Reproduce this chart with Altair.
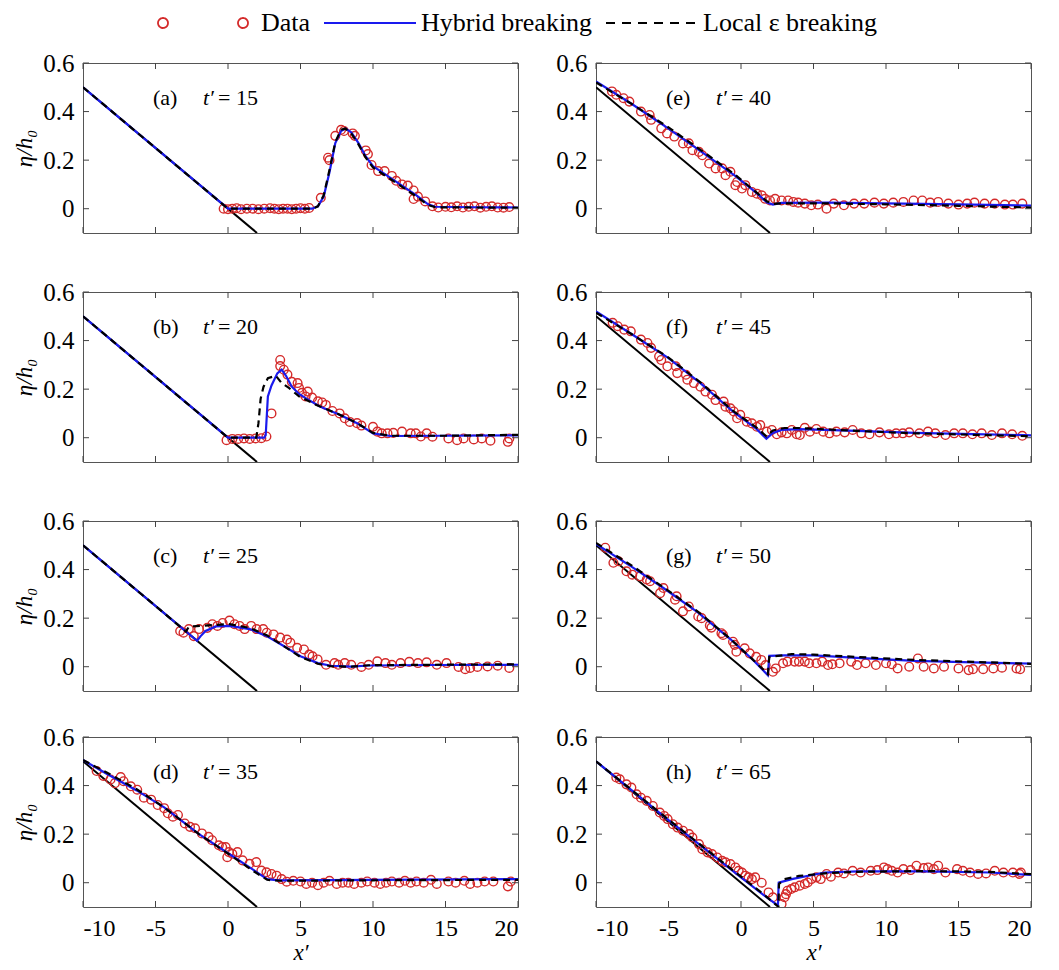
import altair as alt
import pandas as pd

FONT = "Liberation Serif"
XTICKS = [-10, -5, 0, 5, 10, 15, 20]
YTICKS = [0, 0.2, 0.4, 0.6]
BEACH = [(-10, 0.5), (2, -0.1)]
SERIES = ["Data", "Hybrid breaking", "Local ε breaking"]
COLORS = ["#d42a2a", "#1a1aee", "#000000"]
LETTERS = ["a", "b", "c", "d", "e", "f", "g", "h"]
TIMES = [15, 20, 25, 35, 40, 45, 50, 65]

A_DATA = [(-0.3, 0.0), (0.0, -0.002), (0.3, 0.0), (0.6, 0.002), (0.9, -0.002), (1.3, 0.0), (1.7, 0.0),
          (2.1, -0.002), (2.5, 0.0), (2.9, 0.002), (3.2, 0.0), (3.5, -0.002), (3.8, 0.0), (4.1, 0.0),
          (4.4, -0.002), (4.7, 0.0), (5.0, 0.002), (5.3, 0.0), (5.6, 0.003), (6.4, 0.045), (6.9, 0.21),
          (7.0, 0.20), (7.4, 0.30), (7.8, 0.325), (8.0, 0.32), (8.6, 0.31), (8.75, 0.30), (9.5, 0.24),
          (9.65, 0.225), (9.9, 0.18), (10.35, 0.155), (10.8, 0.155), (11.3, 0.135), (11.6, 0.115),
          (12.0, 0.10), (12.4, 0.095), (12.8, 0.075), (12.8, 0.04), (13.1, 0.05), (13.6, 0.03),
          (14.1, 0.01), (14.5, 0.005), (15.0, 0.008), (15.4, 0.006), (15.8, 0.01), (16.2, 0.005),
          (16.6, 0.008), (17.0, 0.01), (17.4, 0.004), (17.8, 0.008), (18.2, 0.01), (18.6, 0.005),
          (19.0, 0.004), (19.4, 0.007)]
A_HYB = [(-10, 0.5), (0, 0.0), (5.8, 0.0), (6.2, 0.01), (6.6, 0.05), (7.0, 0.15), (7.4, 0.27), (7.8, 0.32),
         (8.1, 0.33), (8.5, 0.315), (9.0, 0.27), (9.5, 0.215), (10.0, 0.175), (11.0, 0.135), (12.0, 0.095),
         (13.0, 0.055), (13.8, 0.018), (14.3, 0.008), (17, 0.006), (20, 0.005)]
A_LOC = [(-10, 0.5), (0, 0.0), (5.8, 0.0), (6.2, 0.01), (6.6, 0.055), (7.0, 0.16), (7.4, 0.275), (7.8, 0.325),
         (8.1, 0.33), (8.5, 0.31), (9.0, 0.265), (9.5, 0.21), (10.0, 0.17), (11.0, 0.13), (12.0, 0.09),
         (13.0, 0.05), (13.8, 0.015), (14.3, 0.006), (17, 0.005), (20, 0.004)]

B_DATA = [(-0.1, -0.01), (0.3, -0.005), (0.7, -0.005), (1.1, -0.003), (1.5, -0.005), (1.9, -0.003),
          (2.3, -0.002), (2.65, 0.005), (3.0, 0.10), (3.6, 0.32), (3.6, 0.295), (3.85, 0.28), (4.1, 0.26),
          (4.4, 0.23), (4.8, 0.225), (4.9, 0.205), (5.1, 0.185), (5.35, 0.17), (5.5, 0.19), (5.8, 0.165),
          (6.2, 0.15), (6.5, 0.145), (6.75, 0.135), (7.2, 0.11), (7.7, 0.10), (8.05, 0.08), (8.4, 0.065),
          (8.9, 0.06), (9.2, 0.05), (10.0, 0.045), (10.3, 0.025), (10.6, 0.018), (11.0, 0.018), (11.4, 0.02),
          (12.0, 0.025), (12.6, 0.018), (12.95, 0.018), (13.3, 0.005), (13.7, 0.018), (14.1, 0.004),
          (15.2, -0.003), (15.8, -0.01), (16.25, -0.003), (16.95, -0.007), (17.5, -0.003), (18.1, -0.012),
          (19.3, -0.017), (19.4, -0.003)]
B_HYB = [(-10, 0.5), (0, 0.0), (2.5, 0.0), (2.6, 0.01), (2.75, 0.17), (3.0, 0.215), (3.4, 0.265), (3.7, 0.28),
         (4.0, 0.255), (4.4, 0.21), (4.9, 0.18), (5.3, 0.165), (6.3, 0.13), (7.7, 0.095), (8.9, 0.06),
         (10.0, 0.018), (11.2, 0.007), (15, 0.008), (20, 0.01)]
B_LOC = [(-10, 0.5), (0, 0.0), (1.95, 0.0), (2.1, 0.06), (2.25, 0.16), (2.45, 0.21), (2.75, 0.245), (3.3, 0.255),
         (3.7, 0.225), (4.2, 0.205), (4.9, 0.17), (6.1, 0.135), (7.7, 0.095), (8.9, 0.06), (10.0, 0.02),
         (11.2, 0.008), (15, 0.008), (20, 0.012)]

C_DATA = [(-3.3, 0.147), (-3.07, 0.14), (-2.7, 0.155), (-2.36, 0.126), (-2.0, 0.155), (-1.43, 0.16),
          (-1.08, 0.175), (-0.73, 0.168), (-0.37, 0.18), (0.1, 0.19), (0.45, 0.175), (0.8, 0.168),
          (1.15, 0.155), (1.6, 0.168), (1.97, 0.155), (2.43, 0.155), (2.67, 0.14), (3.14, 0.133),
          (3.6, 0.12), (4.07, 0.112), (4.3, 0.099), (4.77, 0.078), (5.24, 0.071), (5.6, 0.05),
          (5.83, 0.043), (6.18, 0.03), (6.76, 0.008), (7.35, 0.015), (7.6, 0.008), (8.05, 0.015),
          (8.5, 0.008), (9.2, -0.001), (9.7, 0.008), (10.3, 0.022), (10.86, 0.015), (11.3, 0.008),
          (11.9, 0.015), (12.5, 0.02), (13.1, 0.015), (13.7, 0.018), (14.4, 0.008), (15.07, 0.015),
          (15.9, -0.001), (16.36, -0.01), (16.7, -0.005), (17.2, -0.001), (17.9, 0.001), (18.6, 0.004),
          (19.4, -0.005)]
C_HYB = [(-10, 0.5), (-2.13, 0.107), (-1.9, 0.125), (-1.55, 0.147), (-0.84, 0.166), (0.1, 0.168), (1.5, 0.155),
         (2.67, 0.126), (3.84, 0.085), (5.0, 0.043), (6.2, 0.015), (7.1, 0.004), (8.5, 0.0), (9.7, 0.005),
         (14, 0.007), (20, 0.008)]
C_LOC = [(-10, 0.5), (-2.9, 0.145), (-2.7, 0.165), (-1.0, 0.172), (0.1, 0.175), (1.5, 0.16), (2.67, 0.13),
         (3.84, 0.085), (5.0, 0.04), (6.2, 0.012), (7.1, 0.002), (8.5, 0.0), (9.7, 0.006), (14, 0.008),
         (20, 0.01)]

D_DATA = [(-9.06, 0.46), (-8.6, 0.44), (-8.1, 0.425), (-7.8, 0.41), (-7.4, 0.435), (-7.2, 0.418),
          (-6.7, 0.397), (-6.26, 0.383), (-5.8, 0.35), (-5.3, 0.342), (-4.85, 0.32), (-4.4, 0.307),
          (-4.15, 0.286), (-3.8, 0.272), (-3.45, 0.279), (-2.98, 0.244), (-2.62, 0.23), (-2.27, 0.224),
          (-1.8, 0.203), (-1.34, 0.189), (-1.1, 0.175), (-0.63, 0.154), (-0.4, 0.147), (-0.16, 0.147),
          (0.07, 0.126), (-0.05, 0.105), (0.3, 0.119), (0.65, 0.126), (1.0, 0.092), (1.48, 0.078),
          (1.95, 0.085), (2.3, 0.05), (2.65, 0.043), (3.0, 0.036), (3.35, 0.029), (3.7, 0.015),
          (4.05, 0.004), (4.5, 0.008), (5.0, 0.005), (5.4, -0.005), (5.8, 0.0), (6.2, -0.01), (6.6, 0.0),
          (7.0, 0.008), (7.5, -0.005), (7.9, 0.0), (8.3, 0.0), (8.7, -0.005), (9.2, 0.0), (9.6, 0.005),
          (10.1, 0.0), (10.5, -0.005), (10.9, 0.0), (11.3, 0.005), (11.8, 0.0), (12.2, 0.008), (12.6, 0.0),
          (13.0, 0.005), (13.5, 0.0), (14.0, 0.012), (14.4, -0.005), (15.2, 0.005), (15.7, 0.0),
          (16.3, 0.008), (16.7, -0.005), (17.2, 0.0), (17.7, 0.005), (18.3, 0.005), (19.3, -0.015),
          (19.5, 0.005)]
D_HYB = [(-10, 0.505), (-8.4, 0.45), (-6.3, 0.38), (-4.4, 0.31), (-2.0, 0.2), (0.3, 0.11), (1.7, 0.055),
         (2.7, 0.015), (3.5, 0.01), (10, 0.012), (20, 0.015)]
D_LOC = [(-10, 0.505), (-8.4, 0.455), (-6.3, 0.385), (-4.4, 0.31), (-2.0, 0.2), (0.3, 0.108), (1.7, 0.05),
         (2.7, 0.012), (3.5, 0.008), (10, 0.01), (20, 0.012)]

E_DATA = [(-8.9, 0.483), (-8.6, 0.469), (-8.1, 0.455), (-7.7, 0.441), (-6.9, 0.4), (-6.3, 0.386),
          (-6.2, 0.366), (-5.5, 0.331), (-5.1, 0.31), (-4.6, 0.297), (-4.0, 0.269), (-3.6, 0.269),
          (-3.35, 0.241), (-2.9, 0.234), (-2.67, 0.22), (-2.2, 0.186), (-1.75, 0.166), (-1.3, 0.166),
          (-1.07, 0.138), (-0.73, 0.152), (-0.39, 0.097), (-0.27, 0.11), (0.07, 0.083), (0.3, 0.097),
          (0.75, 0.069), (1.1, 0.062), (1.43, 0.055), (1.66, 0.041), (2.0, 0.034), (2.35, 0.041),
          (2.8, 0.034), (3.25, 0.034), (3.6, 0.028), (3.94, 0.025), (4.4, 0.021), (4.85, 0.014),
          (5.3, 0.017), (5.9, 0.0), (6.4, 0.021), (7.1, 0.014), (7.8, 0.021), (8.5, 0.021), (9.2, 0.025),
          (9.85, 0.021), (10.5, 0.025), (11.2, 0.028), (11.9, 0.034), (12.5, 0.034), (13.05, 0.025),
          (13.6, 0.028), (14.3, 0.021), (15.0, 0.017), (15.6, 0.021), (16.1, 0.025), (16.8, 0.021),
          (17.5, 0.021), (18.2, 0.017), (18.75, 0.017), (19.4, 0.021)]
E_HYB = [(-10, 0.524), (-7.5, 0.43), (-5.0, 0.33), (-2.5, 0.225), (-0.4, 0.135), (1.0, 0.068), (1.8, 0.025),
         (2.2, 0.017), (2.8, 0.024), (6, 0.025), (10, 0.022), (15, 0.018), (20, 0.013)]
E_LOC = [(-10, 0.52), (-7.5, 0.43), (-5.0, 0.335), (-2.5, 0.23), (-0.4, 0.14), (1.0, 0.07), (1.8, 0.03),
         (2.2, 0.02), (2.8, 0.022), (6, 0.022), (10, 0.018), (15, 0.012), (20, 0.005)]

F_DATA = [(-8.85, 0.473), (-8.5, 0.459), (-8.05, 0.445), (-7.6, 0.438), (-6.9, 0.404), (-6.45, 0.39),
          (-6.2, 0.37), (-5.65, 0.335), (-5.5, 0.32), (-5.08, 0.294), (-4.5, 0.294), (-4.4, 0.266),
          (-3.8, 0.259), (-3.7, 0.239), (-3.25, 0.225), (-2.8, 0.21), (-2.45, 0.19), (-2.0, 0.177),
          (-1.76, 0.155), (-1.2, 0.149), (-1.07, 0.128), (-0.73, 0.121), (-0.5, 0.108), (-0.27, 0.08),
          (-0.05, 0.094), (0.4, 0.066), (0.75, 0.059), (1.1, 0.045), (1.33, 0.052), (1.78, 0.025),
          (2.13, 0.032), (2.47, 0.014), (2.8, 0.022), (3.16, 0.018), (3.5, 0.032), (3.84, 0.014),
          (4.06, 0.011), (4.4, 0.041), (4.75, 0.025), (5.2, 0.036), (5.67, 0.025), (6.1, 0.018),
          (6.58, 0.025), (7.15, 0.022), (7.7, 0.032), (8.3, 0.018), (8.86, 0.014), (9.55, 0.022),
          (10.2, 0.014), (10.7, 0.018), (11.16, 0.018), (11.6, 0.022), (12.3, 0.018), (12.9, 0.025),
          (13.4, 0.018), (14.1, 0.011), (14.7, 0.018), (15.3, 0.018), (15.96, 0.014), (16.6, 0.018),
          (17.3, 0.011), (18.0, 0.018), (18.7, 0.014), (19.4, 0.008)]
F_HYB = [(-10, 0.52), (-7.5, 0.425), (-5, 0.328), (-2.8, 0.225), (-0.5, 0.105), (1.0, 0.04), (1.75, -0.004),
         (2.2, 0.02), (2.8, 0.032), (4, 0.035), (8, 0.028), (12, 0.02), (16, 0.015), (20, 0.01)]
F_LOC = [(-10, 0.515), (-7.5, 0.425), (-5, 0.33), (-2.8, 0.228), (-0.5, 0.108), (1.0, 0.045), (1.75, 0.006),
         (2.2, 0.03), (3.0, 0.04), (4, 0.04), (8, 0.028), (12, 0.018), (16, 0.012), (20, 0.006)]

G_DATA = [(-9.36, 0.49), (-8.8, 0.428), (-8.45, 0.434), (-7.9, 0.393), (-7.5, 0.379), (-6.96, 0.372),
          (-6.5, 0.359), (-6.27, 0.352), (-5.58, 0.303), (-5.35, 0.324), (-4.55, 0.276), (-4.44, 0.29),
          (-4.0, 0.228), (-3.6, 0.248), (-2.95, 0.207), (-2.72, 0.2), (-2.15, 0.17), (-2.04, 0.161),
          (-1.35, 0.138), (-1.24, 0.131), (-0.55, 0.103), (-0.43, 0.09), (-0.32, 0.062), (0.25, 0.076),
          (0.6, 0.055), (1.05, 0.041), (1.4, 0.028), (1.7, 0.007), (2.2, -0.021), (2.4, -0.007),
          (2.9, 0.014), (3.2, 0.021), (3.7, 0.021), (4.0, 0.021), (4.4, 0.021), (4.7, 0.014), (5.2, 0.014),
          (5.6, 0.021), (6.0, 0.007), (6.3, 0.01), (6.8, 0.014), (7.6, 0.021), (8.0, 0.007), (8.6, 0.014),
          (9.3, 0.007), (10.0, 0.014), (10.4, 0.01), (10.8, -0.007), (11.6, 0.0), (12.2, 0.034),
          (12.6, 0.0), (13.3, -0.007), (14.0, 0.0), (15.0, -0.007), (15.7, -0.014), (16.0, -0.01),
          (16.7, -0.01), (17.4, -0.007), (18.0, -0.004), (19.0, -0.007), (19.25, -0.01)]
G_HYB = [(-10, 0.506), (-7.5, 0.41), (-5.35, 0.324), (-3, 0.225), (-0.8, 0.117), (0.8, 0.03), (1.85, -0.035),
         (1.95, 0.045), (3, 0.047), (5, 0.047), (8, 0.036), (12, 0.024), (16, 0.018), (20, 0.013)]
G_LOC = [(-10, 0.51), (-7.5, 0.415), (-5.35, 0.327), (-3, 0.228), (-0.8, 0.118), (0.8, 0.03), (1.85, -0.03),
         (1.95, 0.04), (3.5, 0.052), (5, 0.05), (8, 0.04), (12, 0.028), (16, 0.02), (20, 0.012)]

H_DATA = [(-8.6, 0.433), (-8.36, 0.426), (-7.9, 0.405), (-7.56, 0.392), (-7.2, 0.364), (-6.9, 0.35),
          (-6.5, 0.337), (-6.08, 0.316), (-5.6, 0.289), (-5.3, 0.275), (-5.06, 0.262), (-4.7, 0.241),
          (-4.37, 0.227), (-4.0, 0.214), (-3.58, 0.2), (-3.35, 0.186), (-2.9, 0.159), (-2.67, 0.138),
          (-2.3, 0.125), (-2.0, 0.118), (-1.64, 0.104), (-1.3, 0.09), (-1.07, 0.084), (-0.73, 0.077),
          (-0.39, 0.063), (-0.16, 0.049), (0.07, 0.042), (0.3, 0.029), (0.52, 0.022), (0.75, 0.015),
          (0.98, 0.022), (1.43, 0.0), (1.9, -0.04), (2.2, -0.06), (2.8, -0.088), (3.0, -0.06),
          (3.1, -0.047), (3.2, -0.033), (3.46, -0.026), (3.7, -0.019), (4.05, -0.012), (4.4, -0.005),
          (4.6, 0.001), (4.85, 0.015), (5.2, 0.022), (5.5, 0.015), (5.9, 0.036), (6.2, 0.025),
          (6.7, 0.042), (7.1, 0.038), (7.7, 0.049), (8.25, 0.042), (8.95, 0.049), (9.4, 0.052),
          (9.86, 0.063), (10.1, 0.056), (10.4, 0.049), (10.8, 0.042), (11.2, 0.056), (11.7, 0.052),
          (12.1, 0.07), (12.6, 0.06), (12.9, 0.063), (13.3, 0.056), (13.6, 0.07), (14.1, 0.042),
          (14.9, 0.056), (15.3, 0.049), (15.8, 0.042), (16.35, 0.036), (16.9, 0.038), (17.5, 0.049),
          (18.1, 0.042), (18.75, 0.042), (19.2, 0.036), (19.3, 0.042)]
H_HYB = [(-10, 0.5), (-5, 0.258), (0, 0.022), (1.5, -0.048), (2.46, -0.09), (2.55, -0.09), (2.6, 0.0),
         (3.5, 0.015), (5.76, 0.042), (8.04, 0.047), (12.6, 0.047), (17.15, 0.042), (20, 0.032)]
H_LOC = [(-10, 0.5), (-5, 0.26), (0, 0.025), (1.5, -0.045), (2.5, -0.095), (2.58, -0.1), (2.62, -0.005),
         (3.0, 0.015), (4, 0.028), (6, 0.04), (8, 0.045), (12.6, 0.048), (17, 0.045), (20, 0.035)]

W, H = 435, 170
TICKC = "#444444"
DASH = [7, 5]

# legend symbol shapes (legend only): two circles at the ends of a sample line, and sample lines
LEG_SIZE = 400
TWO_CIRCLES = ("M0.4,0A0.5,0.5 0 1,1 -0.6,0A0.5,0.5 0 1,1 0.4,0Z"
               "M8.4,0A0.5,0.5 0 1,1 7.4,0A0.5,0.5 0 1,1 8.4,0Z")
LINE_PATH = "M0,0L9.2,0"
cscale = alt.Scale(domain=SERIES, range=COLORS)
shscale = alt.Scale(domain=SERIES, range=[TWO_CIRCLES, LINE_PATH, LINE_PATH])
dscale = alt.Scale(domain=SERIES, range=[[1, 0], [1, 0], [9, 7]])
leg = alt.Legend(title=None, orient="none", legendX=68, legendY=-53, direction="horizontal",
                 labelFont=FONT, labelFontSize=26, labelColor="black", labelLimit=400,
                 symbolStrokeWidth=1.8, symbolSize=LEG_SIZE, columnPadding=-3, labelOffset=84)


def frame(pairs):
    df = pd.DataFrame(pairs, columns=["x", "y"])
    df["i"] = range(len(df))
    return df


def make_panel(letter, tval, data, hyb, loc, show_x, show_ytitle, with_legend):
    xs = alt.Scale(domain=[-10, 20], nice=False, zero=False)
    ys = alt.Scale(domain=[-0.1, 0.6], nice=False, zero=False)
    if show_x:
        xenc = alt.X("x:Q", scale=xs, title="x′",
                     axis=alt.Axis(values=XTICKS, tickSize=0, domain=False, grid=False,
                                   labelPadding=9, labelFontSize=24,
                                   labelExpr="'' + datum.value", titlePadding=1))
    else:
        xenc = alt.X("x:Q", scale=xs, axis=None)
    yenc = alt.Y("y:Q", scale=ys, title=("η/h₀" if show_ytitle else None),
                 axis=alt.Axis(values=YTICKS, tickSize=0, domain=False, grid=False,
                               labelPadding=9, labelFontSize=25,
                               labelExpr="'' + datum.value", titlePadding=6))

    beach = alt.Chart(frame(BEACH)).mark_line(color="black", strokeWidth=2, clip=True).encode(
        x=xenc, y=yenc, order="i:Q")
    pts = alt.Chart(frame(data)).mark_point(shape="circle", filled=False, strokeWidth=1.4, opacity=1,
                                            size=75, color=COLORS[0], clip=True).encode(x=xenc, y=yenc)
    hyb_c = alt.Chart(frame(hyb)).mark_line(strokeWidth=2.2, color=COLORS[1], clip=True).encode(
        x=xenc, y=yenc, order="i:Q")
    loc_c = alt.Chart(frame(loc)).mark_line(strokeWidth=2.2, color=COLORS[2], strokeDash=DASH,
                                            clip=True).encode(x=xenc, y=yenc, order="i:Q")

    xt = pd.DataFrame({"x": XTICKS})
    yt = pd.DataFrame({"y": YTICKS})
    top = alt.Chart(xt).mark_rule(color=TICKC).encode(x=xenc, y=alt.value(0), y2=alt.value(6))
    bot = alt.Chart(xt).mark_rule(color=TICKC).encode(x=xenc, y=alt.value(H - 6), y2=alt.value(H))
    lft = alt.Chart(yt).mark_rule(color=TICKC).encode(y=yenc, x=alt.value(0), x2=alt.value(6))
    rgt = alt.Chart(yt).mark_rule(color=TICKC).encode(y=yenc, x=alt.value(W - 6), x2=alt.value(W))

    def txt(s, px, style):
        return alt.Chart(pd.DataFrame({"t": [s]})).mark_text(
            font=FONT, fontSize=22, align="left", baseline="middle", color="black",
            fontStyle=style).encode(text="t:N", x=alt.value(px), y=alt.value(35))

    labs = [txt(f"({letter})", 70, "normal"), txt("t′", 120, "italic"), txt(f"= {tval}", 135, "normal")]
    layers = [beach, pts, hyb_c, loc_c, top, bot, lft, rgt, *labs]

    if with_legend:
        legend_layer = alt.Chart(pd.DataFrame({"series": SERIES})).transform_filter("false").mark_point(
            filled=False, opacity=1).encode(
            color=alt.Color("series:N", scale=cscale, legend=leg),
            shape=alt.Shape("series:N", scale=shscale, legend=leg),
            strokeDash=alt.StrokeDash("series:N", scale=dscale, legend=leg))
        layers.append(legend_layer)

    return alt.layer(*layers).properties(width=W, height=H)


LEFT = [A_DATA, B_DATA, C_DATA, D_DATA]
LEFT_H = [A_HYB, B_HYB, C_HYB, D_HYB]
LEFT_L = [A_LOC, B_LOC, C_LOC, D_LOC]
RIGHT = [E_DATA, F_DATA, G_DATA, H_DATA]
RIGHT_H = [E_HYB, F_HYB, G_HYB, H_HYB]
RIGHT_L = [E_LOC, F_LOC, G_LOC, H_LOC]

rows = []
for r in range(4):
    left = make_panel(LETTERS[r], TIMES[r], LEFT[r], LEFT_H[r], LEFT_L[r], r == 3, True, r == 0)
    right = make_panel(LETTERS[r + 4], TIMES[r + 4], RIGHT[r], RIGHT_H[r], RIGHT_L[r], r == 3, False, False)
    rows.append(alt.hconcat(left, right, spacing=36))

chart = alt.vconcat(alt.vconcat(rows[0], rows[1], rows[2], spacing=45), rows[3], spacing=32)
chart = chart.properties(padding={"left": 5, "right": 5, "top": 2, "bottom": 0})
chart = chart.configure_view(stroke="#555555", strokeWidth=1).configure_axis(
    labelFont=FONT, labelFontSize=22, labelColor="black", titleFont=FONT, titleFontSize=23,
    titleColor="black", titleFontWeight="normal", titleFontStyle="italic")

chart.save("out.html", embed_options={"renderer": "svg", "actions": False})
